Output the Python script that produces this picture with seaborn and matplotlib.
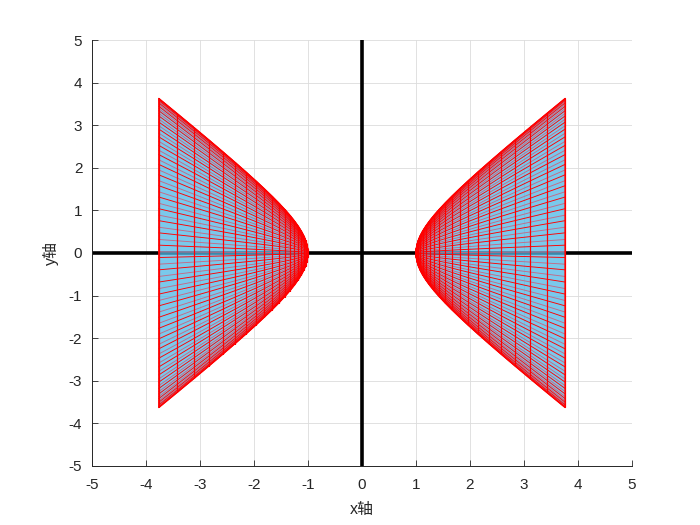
import numpy as np
import matplotlib
matplotlib.use("Agg")
import matplotlib.pyplot as plt
import seaborn as sns

# ---- data ----
u_values = np.round(np.arange(0, 2.0001, 0.1), 2)      # hyperbolic parameter of the mesh (vertical lines)
v_values = np.arange(0, 2 * np.pi, 0.08)                # angle around the hyperboloid axis
x_ticks = [-5, -4, -3, -2, -1, 0, 1, 2, 3, 4, 5]
y_ticks = [-5, -4, -3, -2, -1, 0, 1, 2, 3, 4, 5]
x_label = "x轴"
y_label = "y轴"
sheet_signs = [1, -1]

sns.set_theme(style="white")
plt.rcParams['font.family'] = ['Liberation Sans', 'Noto Sans CJK SC', 'DejaVu Sans']

fig = plt.figure(figsize=(7, 5.25), dpi=100)
ax = fig.add_axes([0.1314, 0.1124, 0.7714, 0.8114])

# grid
for t in x_ticks:
    ax.axvline(t, color="#dcdcdc", lw=0.6, zorder=0)
for t in y_ticks:
    ax.axhline(t, color="#dcdcdc", lw=0.6, zorder=0)

# coordinate axes (black)
sns.lineplot(x=[-5, 5], y=[0, 0], color="black", lw=2.6, ax=ax, zorder=1)
ax.plot([0, 0], [-5, 5], color="black", lw=2.6, zorder=1)

U, V = np.meshgrid(u_values, v_values)
face_c = (0.30, 0.72, 0.90)
face_a = 0.75
for s in sheet_signs:
    X = s * np.cosh(U)
    Y = np.sinh(U) * np.cos(V)
    ub = u_values
    bx = np.concatenate([s * np.cosh(ub), s * np.cosh(ub[::-1])])
    by = np.concatenate([np.sinh(ub), -np.sinh(ub[::-1])])
    ax.fill(bx, by, color=face_c, alpha=face_a, lw=0, zorder=2)
    front = np.sin(v_values) >= -1e-9
    for i in np.where(~front)[0]:
        ax.plot(X[i], Y[i], color="#c46a86", lw=0.65, zorder=3)
    for i in np.where(front)[0]:
        ax.plot(X[i], Y[i], color="red", lw=0.65, zorder=4)
    for j in range(len(u_values)):
        ax.plot(X[:, j], Y[:, j], color="red", lw=0.8, zorder=4)
    ax.plot(bx, by, color="red", lw=1.0, zorder=4)

ax.set_xlim(-5, 5)
ax.set_ylim(-5, 5)
ax.set_xticks(x_ticks)
ax.set_yticks(y_ticks)
ax.set_xticklabels([str(t) for t in x_ticks])
ax.set_yticklabels([str(t) for t in y_ticks])
ax.tick_params(direction="in", length=4, width=0.6, colors="#262626", labelsize=11,
               bottom=True, left=True, top=False, right=False)
ax.tick_params(axis="x", pad=9)
ax.tick_params(axis="y", pad=7)
for side in ["top", "right"]:
    ax.spines[side].set_visible(False)
for side in ["bottom", "left"]:
    ax.spines[side].set_color("#262626")
    ax.spines[side].set_linewidth(0.7)
    ax.spines[side].set_zorder(6)

ax.set_xlabel(x_label, fontsize=11.5, color="#262626", labelpad=7)
ax.set_ylabel(y_label, fontsize=11.5, color="#262626", labelpad=7)

fig.savefig("out.png", dpi=100)
